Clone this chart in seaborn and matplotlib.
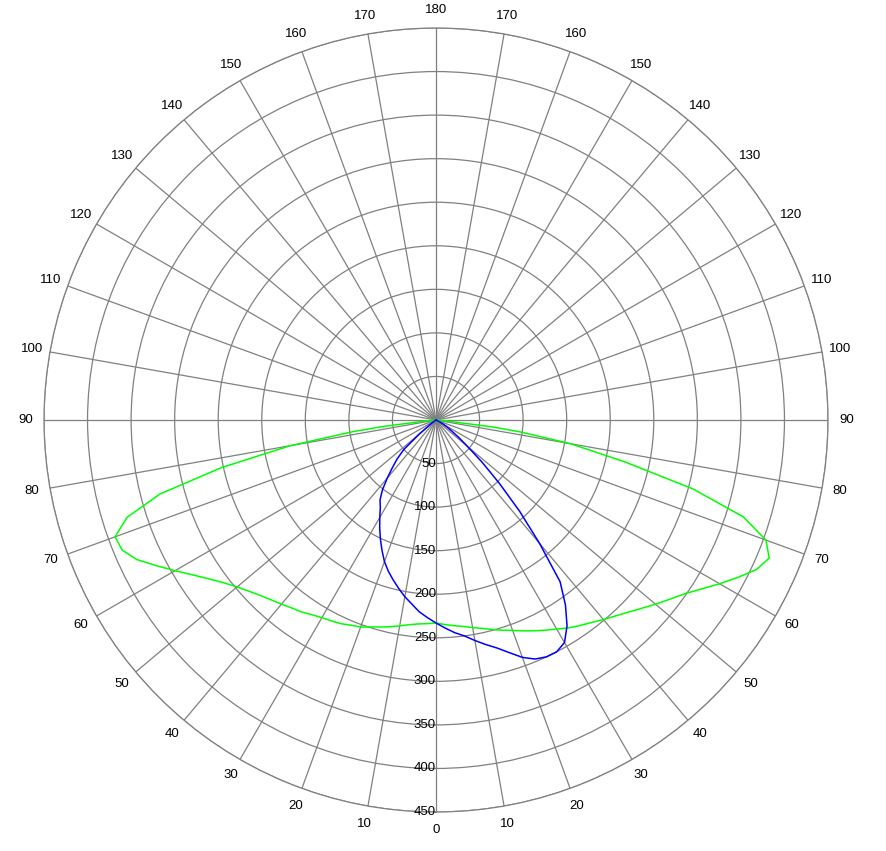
import numpy as np
import pandas as pd
import matplotlib
matplotlib.use("Agg")
import matplotlib.pyplot as plt
import seaborn as sns

sns.set_style("white")
plt.rcParams['font.family'] = ['Liberation Sans', 'DejaVu Sans']

# Intensity readings (cd), signed angle: negative = left half, positive = right half
blue_deg = [-90, -60, -55, -52.5, -50, -47.5, -45, -42.5, -40, -37.5, -35, -32.5, -30, -27.5, -25,
            -22.5, -20, -17.5, -15, -12.5, -10, -7.5, -5, -2.5,
            0, 2.5, 5, 7.5, 10, 12.5, 15, 17.5, 20, 22.5, 25, 27.5, 30, 32.5, 35, 37.5, 40, 42.5,
            45, 47.5, 50, 52.5, 55, 57.5, 60, 62.5, 65, 90]
blue_cd = [0, 1, 3, 8, 25, 50, 63, 74, 87, 101, 112, 119, 129, 140, 151,
           162, 173, 182, 190, 198, 206, 213, 221, 227,
           233, 239, 245, 250, 257, 264, 271, 280, 290, 297, 300, 300, 295, 280, 259, 234, 185, 142,
           103, 72, 47, 33, 22, 15, 10, 5, 2, 0]

green_deg = [-90, -86, -84, -83, -82, -80, -77.5, -75, -72.5, -70, -67.5, -65, -62.5, -60, -57.5,
             -55, -52.5, -50, -47.5, -45, -42.5, -40, -37.5, -35, -32.5, -30, -27.5, -25, -22.5,
             -20, -17.5, -15, -12.5, -10, -7.5, -5, -2.5,
             0, 2.5, 5, 7.5, 10, 12.5, 15, 17.5, 20, 22.5, 25, 27.5, 30, 32.5, 35, 37.5, 40,
             42.5, 45, 47.5, 50, 52.5, 55, 57.5, 60, 62.5, 65, 67.5, 70, 72.5, 75, 77.5, 80,
             82, 83, 84, 86, 90]
green_cd = [0, 5, 19, 62, 97, 170, 252, 328, 372, 392, 390, 379, 362, 346, 331,
            318, 307, 298, 291, 285, 280, 276, 272, 269, 265, 262, 260, 258, 255,
            253, 249, 246, 243, 240, 237, 235, 234,
            233, 235, 237, 239, 242, 245, 249, 253, 257, 262, 267, 272, 277, 283, 288, 293, 299,
            305, 312, 320, 329, 338, 348, 361, 376, 391, 406, 414, 403, 370, 305, 222, 157,
            97, 65, 19, 5, 0]

ring_values = [50, 100, 150, 200, 250, 300, 350, 400, 450]
angle_ticks = list(range(0, 360, 10))

blue = pd.DataFrame({'theta': np.deg2rad(blue_deg), 'cd': blue_cd})
green = pd.DataFrame({'theta': np.deg2rad(green_deg), 'cd': green_cd})

fig = plt.figure(figsize=(8.87, 8.51), dpi=100)
ax = fig.add_axes([0.0496, 0.0458, 0.8839, 0.9213], projection='polar')
ax.set_theta_zero_location('S')
ax.set_ylim(0, 450)

ax.set_thetagrids(angle_ticks, labels=[''] * len(angle_ticks))
ax.set_rgrids(ring_values, labels=[''] * len(ring_values))
ax.grid(True, color='#808080', linewidth=0.9)
ax.spines['polar'].set_color('#808080')
ax.spines['polar'].set_linewidth(0.9)

sns.lineplot(data=green, x='theta', y='cd', sort=False, estimator=None, color='#00ff00',
             linewidth=1.1, ax=ax)
sns.lineplot(data=blue, x='theta', y='cd', sort=False, estimator=None, color='#0000ff',
             linewidth=1.1, ax=ax)
ax.set_xlabel('')
ax.set_ylabel('')

# angle labels round the outside
for a in angle_ticks:
    lab = a if a <= 180 else 360 - a
    ax.text(np.deg2rad(a), 471, str(lab), ha='center', va='center', fontsize=9.5,
            color='black', clip_on=False)

# intensity labels along the downward axis
for v in ring_values:
    ax.text(0, v, str(v), ha='right', va='center', fontsize=9.5, color='black')

fig.savefig('out.png', dpi=100)
